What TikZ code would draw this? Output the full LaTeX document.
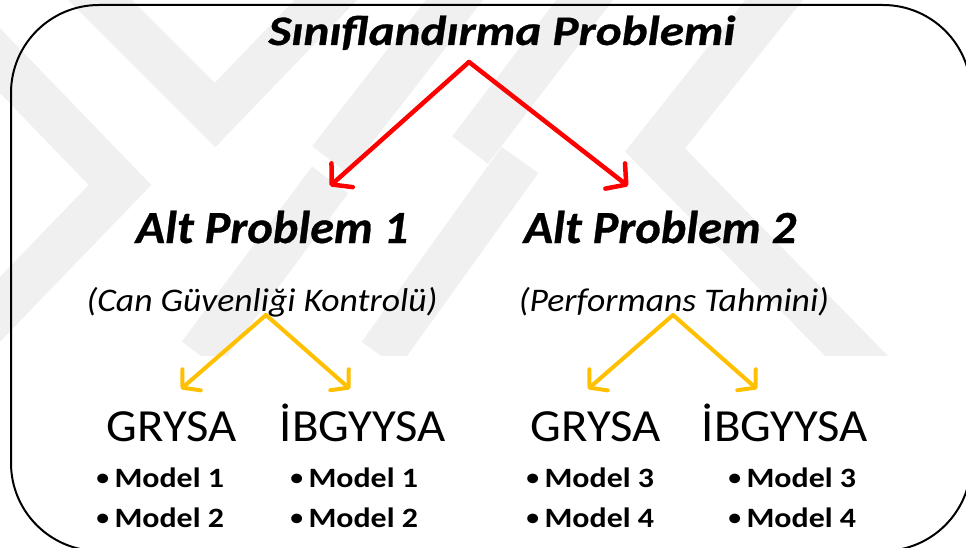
\documentclass[tikz,border=0pt]{standalone}
\usepackage{fontspec}
\setmainfont{Carlito}
% the lettering is a little wider than plain Carlito, so each level gets its own stretch
\newfontfamily\titlefam{Carlito}[FakeStretch=1.17, BoldItalicFeatures={FakeBold=0.7}]
\newfontfamily\altfam{Carlito}[FakeStretch=1.05, BoldItalicFeatures={FakeBold=0.7}]
\newfontfamily\notefam{Carlito}[FakeStretch=1.08]
\newfontfamily\methfam{Carlito}[FakeStretch=1.06]
\newfontfamily\itemfam{Carlito}[FakeStretch=1.14]
\usetikzlibrary{arrows.meta}
\definecolor{wmgray}{HTML}{F0F0F0}
\definecolor{redline}{HTML}{FF0000}
\definecolor{goldline}{HTML}{FFC000}
\newcommand{\bul}{{\mdseries\fontsize{27}{28}\selectfont\raisebox{1pt}{•}}\hspace{4pt}}
\tikzset{
  band/.style={draw=wmgray, line width=45pt, line join=miter},
  maintitle/.style={font=\titlefam\fontsize{42}{46}\selectfont\bfseries\itshape, inner sep=0pt, anchor=base},
  subtitle/.style={font=\altfam\fontsize{46}{50}\selectfont\bfseries\itshape, inner sep=0pt, anchor=base},
  subnote/.style={font=\notefam\fontsize{33}{36}\selectfont\itshape, inner sep=0pt, anchor=base},
  method/.style={font=\methfam\fontsize{46}{50}\selectfont, inner sep=0pt, anchor=base},
  item/.style={font=\itemfam\fontsize{28}{32}\selectfont\bfseries, inner sep=0pt, anchor=base west},
  redarrow/.style={draw=redline, line width=4.5pt, line cap=round,
    -{Straight Barb[length=14pt, width=32pt, line width=4.5pt, round]}},
  goldarrow/.style={draw=goldline, line width=4pt, line cap=round,
    -{Straight Barb[length=12pt, width=28pt, line width=4pt, round]}},
}
\begin{document}
\begin{tikzpicture}[x=1pt, y=-1pt]
\useasboundingbox (0,0) rectangle (966,548);
\fill[white] (0,0) rectangle (966,548);

% faint background stripes
\begin{scope}
  \clip (0,0) rectangle (966,355);
  \draw[band] (80,-20) -- (215,115) -- (345,-20);
  \draw[band] (-20,40) -- (120,185) -- (-20,330);
  \draw[band] (520,160) -- (380,355);
  \draw[band] (330,180) -- (200,355);
  \draw[band] (790,-20) -- (655,150) -- (880,380);
  \draw[band] (470,-20) -- (330,160);
  \draw[band] (600,-20) -- (470,150);
\end{scope}

% outer frame
\draw[line width=2pt, rounded corners=88pt] (11,5) rectangle (971,551);

% texts
\node[maintitle] (root) at (502,45) {Sınıflandırma Problemi};
\node[subtitle] (p1) at (272,243) {Alt Problem 1};
\node[subtitle] (p2) at (660,243) {Alt Problem 2};
\node[subnote] (n1) at (262,311) {(Can Güvenliği Kontrolü)};
\node[subnote] (n2) at (674,311) {(Performans Tahmini)};
\node[method] (m1) at (172,441) {GRYSA};
\node[method] (m2) at (363,441) {İBGYYSA};
\node[method] (m3) at (596,441) {GRYSA};
\node[method] (m4) at (785,441) {İBGYYSA};

\node[item] (a1) at (95,487) {\bul Model 1};
\node[item] (a2) at (95,527) {\bul Model 2};
\node[item] (b1) at (289,487) {\bul Model 1};
\node[item] (b2) at (289,527) {\bul Model 2};
\node[item] (c1) at (525,487) {\bul Model 3};
\node[item] (c2) at (525,527) {\bul Model 4};
\node[item] (d1) at (727,487) {\bul Model 3};
\node[item] (d2) at (727,527) {\bul Model 4};

% connector end points
\coordinate (r0) at (469,62);
\coordinate (r1) at (330,186);
\coordinate (r2) at (628,186);
\coordinate (y0) at (266,315);
\coordinate (y1) at (181,389);
\coordinate (y2) at (350,389);
\coordinate (z0) at (673,315);
\coordinate (z1) at (588,389);
\coordinate (z2) at (757,389);

\draw[redarrow] (r0) -- (r1);
\draw[redarrow] (r0) -- (r2);
\draw[goldarrow] (y0) -- (y1);
\draw[goldarrow] (y0) -- (y2);
\draw[goldarrow] (z0) -- (z1);
\draw[goldarrow] (z0) -- (z2);
\end{tikzpicture}
\end{document}
